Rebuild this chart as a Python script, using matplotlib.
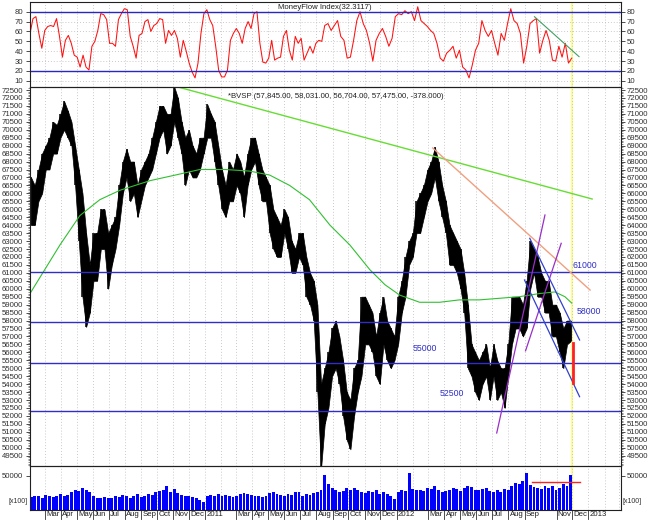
import matplotlib
matplotlib.use("Agg")
import matplotlib.pyplot as plt
import matplotlib.dates as mdates
from matplotlib.transforms import blended_transform_factory
import numpy as np
import pandas as pd

plt.rcParams['font.family'] = ['Liberation Sans', 'DejaVu Sans']

# ---------------- data ----------------
week_start = "2010-02-01"
# weekly high / low of the index, in thousands of points
price_high = [
    67.0, 66.5, 67.5, 68.5, 69.0, 69.5, 70.5, 70.3, 71.0, 71.8, 71.2, 70.5, 69.0, 67.5, 66.0, 63.5,
    61.5, 63.5, 63.5, 65.0, 65.0, 63.5, 64.0, 64.5, 66.5, 68.0, 68.8, 68.0, 68.0, 66.5, 67.5, 68.0,
    68.5, 69.5, 70.5, 71.5, 71.5, 71.0, 71.0, 72.7, 72.0, 70.5, 69.5, 70.0, 69.0, 68.5, 69.5, 69.5,
    71.6, 71.0, 70.5, 69.0, 67.5, 66.5, 68.0, 67.5, 68.5, 68.0, 67.0, 68.5, 69.5, 69.5, 68.5, 67.5,
    67.0, 66.5, 65.0, 64.5, 64.0, 65.0, 64.5, 63.0, 62.5, 63.5, 63.5, 62.0, 61.0, 60.5, 59.0, 54.0,
    55.0, 56.0, 57.5, 58.0, 57.0, 55.5, 53.5, 53.0, 55.0, 55.5, 59.5, 59.5, 59.0, 58.5, 57.0, 58.5,
    59.5, 58.0, 57.5, 57.0,
    59.5, 60.5, 62.0, 63.0, 63.5, 65.5, 66.0, 66.5, 67.5, 68.0, 68.9, 68.0, 66.5, 65.5, 64.0, 63.5,
    63.0, 62.5, 61.0, 59.0, 56.5, 56.0, 55.5, 56.0, 56.5, 55.0, 56.5, 55.5, 55.0, 55.0, 56.5, 59.5,
    59.5, 59.5, 59.0, 60.5, 63.0, 62.5, 62.0, 61.0, 60.5, 60.5, 59.0, 59.0, 58.5, 57.5, 58.0, 58.0,
]
price_low = [
    64.0, 64.0, 65.5, 66.0, 67.5, 67.5, 68.5, 68.5, 69.5, 70.0, 69.5, 69.0, 66.5, 63.0, 59.5, 57.6,
    58.5, 60.5, 60.5, 62.5, 62.5, 60.0, 61.5, 62.5, 64.0, 66.0, 67.0, 65.5, 66.0, 64.5, 65.5, 66.5,
    67.0, 67.5, 68.5, 69.5, 70.0, 68.5, 69.0, 70.5, 69.5, 68.5, 66.5, 67.5, 67.0, 67.0, 67.5, 68.5,
    69.5, 69.5, 68.0, 66.5, 65.0, 64.5, 65.5, 65.5, 66.5, 66.0, 64.5, 66.5, 67.5, 68.0, 66.5, 65.5,
    65.5, 63.5, 62.5, 62.0, 62.0, 63.5, 62.5, 61.0, 61.0, 62.0, 61.5, 59.5, 59.0, 58.0, 53.5, 48.7,
    51.5, 52.5, 54.5, 55.0, 54.0, 52.0, 50.5, 49.9, 52.0, 53.5, 54.5, 56.5, 56.5, 56.0, 54.5, 54.0,
    56.5, 55.5, 55.0, 55.5,
    56.5, 58.5, 59.5, 61.5, 62.0, 63.5, 63.5, 64.5, 65.5, 66.0, 67.0, 65.5, 64.5, 63.5, 61.5, 61.5,
    61.0, 60.0, 58.5, 55.0, 54.5, 53.5, 53.0, 54.0, 54.5, 53.0, 54.5, 53.0, 53.5, 52.5, 54.5, 56.5,
    57.5, 57.5, 57.0, 57.5, 60.0, 61.0, 59.5, 59.5, 58.5, 58.5, 57.0, 57.0, 56.0, 55.0, 56.5, 56.7,
]
# weekly volume, in thousands of [x100] units
volume = [
    19, 21, 20, 18, 22, 20, 19, 21, 24, 20, 22, 26, 30, 28, 32, 29, 26, 20, 18, 17, 19, 18, 17, 20,
    19, 22, 21, 18, 20, 24, 19, 21, 23, 22, 26, 28, 30, 36, 27, 31, 25, 22, 21, 20, 19, 17, 15, 12,
    21, 22, 20, 23, 21, 22, 20, 19, 21, 24, 25, 23, 22, 20, 21, 19, 20, 25, 27, 23, 22, 21, 24, 22,
    26, 27, 20, 23, 22, 25, 27, 30, 51, 38, 33, 30, 26, 28, 32, 29, 33, 30, 27, 25, 28, 26, 30, 24,
    27, 23, 20, 16,
    26, 30, 28, 54, 31, 29, 30, 28, 33, 31, 35, 29, 27, 28, 30, 32, 31, 28, 33, 36, 34, 30, 29, 31,
    33, 28, 27, 30, 26, 31, 29, 35, 40, 38, 42, 55, 37, 34, 33, 31, 36, 32, 35, 30, 33, 38, 36, 51,
]

# Money Flow Index, two evenly sampled stretches
mfi_a_range = ("2010-02-01", "2011-08-17")
mfi_a = [58, 73, 75, 58, 43, 61, 65, 66, 65, 73, 55, 34, 51, 56, 48, 36, 34, 24, 36, 24,
         21, 45, 50, 61, 78, 77, 72, 48, 48, 45, 72, 78, 83, 82, 55, 45, 33, 56, 58, 70,
         72, 60, 66, 68, 73, 72, 48, 61, 56, 61, 53, 34, 51, 40, 28, 19, 13, 28, 58, 78,
         82, 72, 66, 45, 21, 14, 14, 21, 51, 58, 63, 58, 48, 63, 70, 63, 78, 80, 48, 29,
         28, 33, 51, 31, 33, 34, 55, 61, 41, 31, 55, 48, 53, 31, 38, 45, 38, 48, 51, 50]
mfi_b_range = ("2011-08-17", "2012-11-30")
mfi_b = [66, 68, 61, 66, 71, 55, 51, 33, 34, 51, 71, 80, 68, 61, 48, 30, 51, 58, 63, 55,
         45, 53, 75, 78, 77, 81, 78, 80, 71, 85, 71, 68, 65, 61, 58, 48, 33, 30, 38, 41,
         45, 33, 41, 24, 21, 13, 26, 41, 48, 71, 61, 55, 61, 48, 36, 58, 51, 68, 83, 71,
         68, 58, 28, 45, 68, 71, 73, 38, 51, 61, 51, 31, 30, 45, 34, 48, 28, 33]

# moving average of the index
ma_dates = ["2010-02-01", "2010-03-30", "2010-05-07", "2010-06-14", "2010-07-23", "2010-09-18",
            "2010-11-05", "2010-12-22", "2011-02-08", "2011-03-27", "2011-05-04", "2011-06-11",
            "2011-07-19", "2011-08-27", "2011-10-04", "2011-11-11", "2011-12-10", "2012-01-07",
            "2012-02-14", "2012-03-23", "2012-04-30", "2012-06-07", "2012-07-15", "2012-08-22",
            "2012-09-30", "2012-10-29", "2012-11-17", "2012-11-30"]
ma_values = [59700, 62750, 64600, 65600, 66200, 66800, 67150, 67500, 67500, 67400, 67150, 66500,
             65600, 64000, 62750, 61200, 60250, 59600, 59150, 59150, 59300, 59300, 59400, 59500,
             59700, 59800, 59500, 59100]

# horizontal support / resistance levels
level_values = [61075, 57930, 55330, 52330]
level_labels = ["61000", "58000", "55000", "52500"]
level_label_pos = [("2012-12-01", 61200), ("2012-12-10", 58300), ("2012-02-01", 55950), ("2012-03-23", 53100)]

# trend lines: (date, value) pairs
trend_green = [("2010-11-10", 72689), ("2013-01-08", 65645)]
trend_orange = [("2012-03-10", 68852), ("2013-01-04", 59921)]
trend_purple = [[("2012-07-10", 50928), ("2012-10-10", 64638)],
                [("2012-09-03", 56100), ("2012-11-10", 62858)]]
trend_blue = [[("2012-09-11", 63173), ("2012-12-15", 56777)],
              [("2012-09-01", 60550), ("2012-12-15", 53211)]]
mfi_trend = [("2012-09-20", 74.9), ("2012-12-14", 34.5)]
vol_level = [("2012-09-16", 41.6), ("2012-12-15", 41.6)]
red_bar = [("2012-12-02", 56600), ("2012-12-02", 54100)]
last_day = "2012-11-30"

month_labels = ["Mar", "Apr", "May", "Jun", "Jul", "Aug", "Sep", "Oct", "Nov", "Dec", "2011",
                "Mar", "Apr", "May", "Jun", "Jul", "Aug", "Sep", "Oct", "Nov", "Dec", "2012",
                "Mar", "Apr", "May", "Jun", "Jul", "Aug", "Sep", "Nov", "Dec", "2013"]
month_dates = ["2010-03-01", "2010-04-01", "2010-05-01", "2010-06-01", "2010-07-01", "2010-08-01",
               "2010-09-01", "2010-10-01", "2010-11-01", "2010-12-01", "2011-01-01",
               "2011-03-01", "2011-04-01", "2011-05-01", "2011-06-01", "2011-07-01", "2011-08-01",
               "2011-09-01", "2011-10-01", "2011-11-01", "2011-12-01", "2012-01-01",
               "2012-03-01", "2012-04-01", "2012-05-01", "2012-06-01", "2012-07-01", "2012-08-01",
               "2012-09-01", "2012-11-01", "2012-12-01", "2013-01-01"]

# ---------------- figure ----------------
W, H = 650, 520
fig = plt.figure(figsize=(6.5, 5.2), dpi=100)
fig.patch.set_facecolor("white")

def box(x0, y0, x1, y1):
    return [x0 / W, 1 - y1 / H, (x1 - x0) / W, (y1 - y0) / H]

XL, XR = 29.5, 620.5
ax_m = fig.add_axes(box(XL, 2, XR, 87))
ax_p = fig.add_axes(box(XL, 87, XR, 466))
ax_v = fig.add_axes(box(XL, 466, XR, 510))

d0 = mdates.date2num(pd.Timestamp("2010-02-01"))
xmin = d0 - 1
xmax = d0 + (XR - 30) / 0.5244
FS = 5.6
LBLUE = "#2f2fc8"
GRID = dict(color="#b8b8b8", linestyle=(0, (1, 2.5)), linewidth=0.6)

weeks = pd.date_range(week_start, periods=len(price_high), freq="7D") + pd.Timedelta(days=2)
wx = mdates.date2num(weeks)

for ax in (ax_m, ax_p, ax_v):
    ax.set_xlim(xmin, xmax)
    ax.set_facecolor("none")
    ax.set_axisbelow(True)
    for s in ax.spines.values():
        s.set_linewidth(0.8)
        s.set_color("#202020")
    ax.tick_params(axis="y", which="both", left=True, right=True, labelleft=True, labelright=True,
                   labelsize=FS, length=3, width=0.6, pad=1.5, colors="#303030")
    ax.tick_params(axis="x", which="both", bottom=False, labelbottom=False)
    ax.xaxis.set_major_locator(mdates.MonthLocator())
    ax.grid(True, axis="x", **GRID)

# ---- MFI ----
ax_m.set_ylim(3.8, 89.8)
ta = np.linspace(mdates.date2num(pd.Timestamp(mfi_a_range[0])), mdates.date2num(pd.Timestamp(mfi_a_range[1])), len(mfi_a), endpoint=False)
tb = np.linspace(mdates.date2num(pd.Timestamp(mfi_b_range[0])), mdates.date2num(pd.Timestamp(mfi_b_range[1])), len(mfi_b))
ax_m.plot(np.concatenate([ta, tb]), mfi_a + mfi_b, color="#ff1010", lw=0.75)
ax_m.axhline(80, color="#2828c0", lw=1.0)
ax_m.axhline(20, color="#2828c0", lw=1.0)
ax_m.set_yticks([10, 20, 30, 40, 50, 60, 70, 80])
ax_m.grid(True, axis="y", **GRID)
ax_m.plot(mdates.date2num(pd.to_datetime([p[0] for p in mfi_trend])), [p[1] for p in mfi_trend],
          color="#40a060", lw=0.8)
ax_m.text(0.5, 0.975, "MoneyFlow Index(32.3117)", transform=ax_m.transAxes, ha="center", va="top",
          fontsize=FS, color="#202020")

# ---- price ----
ax_p.set_ylim(48852, 72689)
ax_p.set_yticks(np.arange(49500, 72501, 500))
ax_p.set_yticks(np.arange(48900, 72700, 100), minor=True)
ax_p.tick_params(axis="y", which="minor", length=1.5, width=0.4)
ax_p.yaxis.set_major_formatter(matplotlib.ticker.FuncFormatter(lambda v, p: f"{int(v)}"))
hi = np.array(price_high) * 1000
lo = np.array(price_low) * 1000
ax_p.fill_between(wx, lo, hi, color="black", linewidth=0.5, edgecolor="black")
ax_p.vlines(wx, lo, hi, color="black", linewidth=1.1)
ax_p.plot(mdates.date2num(pd.to_datetime(ma_dates)), ma_values, color="#30c030", lw=0.8)
for v in level_values:
    ax_p.axhline(v, color=LBLUE, lw=1.0)
for (d, yv), lab in zip(level_label_pos, level_labels):
    ax_p.text(mdates.date2num(pd.Timestamp(d)), yv, lab, fontsize=6.3, color=LBLUE, ha="left", va="bottom")

def seg(ax, pts, **kw):
    ax.plot(mdates.date2num(pd.to_datetime([p[0] for p in pts])), [p[1] for p in pts], **kw)

seg(ax_p, trend_green, color="#66dd33", lw=1.0)
seg(ax_p, trend_orange, color="#f0a080", lw=1.0)
for s in trend_purple:
    seg(ax_p, s, color="#9a2fc8", lw=0.9)
for s in trend_blue:
    seg(ax_p, s, color="#3040d0", lw=0.9)
seg(ax_p, red_bar, color="#ff2020", lw=2.0)
ax_p.text(0.336, 0.985, "*BVSP (57,845.00, 58,031.00, 56,704.00, 57,475.00, -378.000)",
          transform=ax_p.transAxes, ha="left", va="top", fontsize=FS, color="#202020")

# ---- volume ----
ax_v.set_ylim(0, 64.7)
ax_v.set_yticks([50])
ax_v.yaxis.set_major_formatter(matplotlib.ticker.FuncFormatter(lambda v, p: f"{int(v*1000)}"))
ax_v.bar(wx, volume, width=5.5, color="#0000ff", linewidth=0)
seg(ax_v, vol_level, color="#ff2020", lw=1.0)
ax_v.text(-0.004, 0.2, "[x100]", transform=ax_v.transAxes, ha="right", va="center", fontsize=FS - 0.6, color="#303030")
ax_v.text(1.004, 0.2, "[x100]", transform=ax_v.transAxes, ha="left", va="center", fontsize=FS - 0.6, color="#303030")

# month labels with tick marks
tr = blended_transform_factory(ax_v.transData, fig.transFigure)
for d, lab in zip(month_dates, month_labels):
    xd = mdates.date2num(pd.Timestamp(d))
    ax_v.plot([xd, xd], [1 - 510 / H, 1 - 519 / H], transform=tr, color="#303030", lw=0.6, clip_on=False)
    ax_v.text(xd + 2.5, 1 - 515 / H, lab, transform=tr, fontsize=FS, ha="left", va="center", color="#202020")

# yellow marker for last bar
for ax in (ax_m, ax_p, ax_v):
    ax.axvline(mdates.date2num(pd.Timestamp(last_day)), color="#ffff70", lw=1.2, zorder=0.5)

fig.savefig("out.png", dpi=100, facecolor="white")
